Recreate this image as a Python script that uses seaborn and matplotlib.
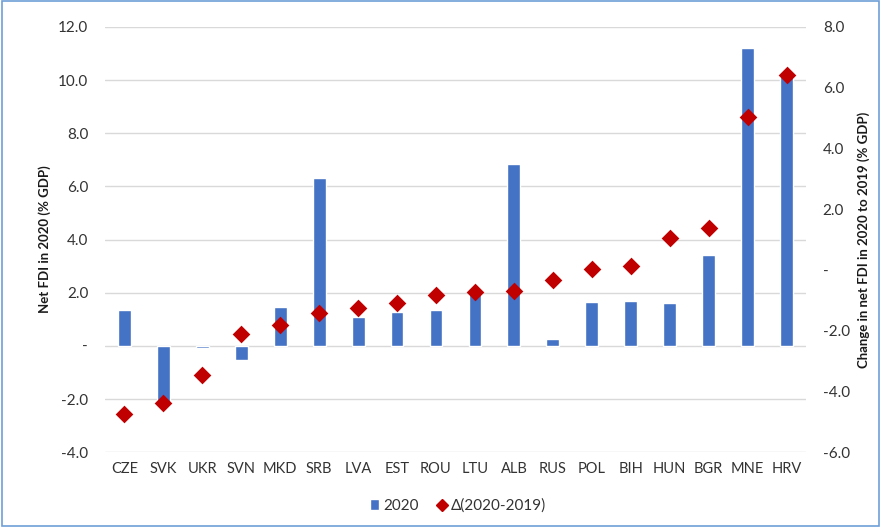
import matplotlib
matplotlib.use("Agg")
import matplotlib.pyplot as plt
import seaborn as sns
import pandas as pd
from matplotlib.patches import Patch, Rectangle
from matplotlib.lines import Line2D
from matplotlib.ticker import FuncFormatter, MultipleLocator

# data
countries = ['CZE', 'SVK', 'UKR', 'SVN', 'MKD', 'SRB', 'LVA', 'EST', 'ROU',
             'LTU', 'ALB', 'RUS', 'POL', 'BIH', 'HUN', 'BGR', 'MNE', 'HRV']
fdi_2020 = [1.35, -2.2, -0.08, -0.55, 1.45, 6.3, 1.1, 1.28, 1.35,
            2.05, 6.85, 0.25, 1.65, 1.7, 1.6, 3.42, 11.2, 10.3]
delta = [-4.75, -4.38, -3.46, -2.1, -1.8, -1.42, -1.25, -1.1, -0.82,
         -0.72, -0.69, -0.33, 0.03, 0.13, 1.05, 1.38, 5.04, 6.42]

df = pd.DataFrame({'country': countries, 'fdi': fdi_2020, 'delta': delta})

blue = '#4472C4'
red = '#C00000'

sns.set_theme(style='white')
plt.rcParams['font.family'] = ['Lato', 'DejaVu Sans']

fig = plt.figure(figsize=(8.81, 5.27), dpi=100)
ax = fig.add_axes([0.119, 0.142, 0.796, 0.807])
fig.patches.append(Rectangle((0.002, 0.002), 0.996, 0.996, transform=fig.transFigure,
                             fill=False, edgecolor='#6F9FD8', linewidth=1.2))

sns.barplot(data=df, x='country', y='fdi', color=blue, width=0.33,
            saturation=1, ax=ax, zorder=2)
ax.set_ylim(-4, 12)
ax.yaxis.set_major_locator(MultipleLocator(2))

ax2 = ax.twinx()
sns.stripplot(data=df, x='country', y='delta', color=red, marker='D', size=9,
              jitter=False, linewidth=0, ax=ax2, zorder=3)
ax2.set_ylim(-6, 8)
ax2.yaxis.set_major_locator(MultipleLocator(2))
ax.set_xlim(-0.5, len(countries) - 0.5)

def fmt(v, pos):
    return '-' if abs(v) < 1e-9 else f'{v:.1f}'

for a in (ax, ax2):
    a.yaxis.set_major_formatter(FuncFormatter(fmt))
    for s in a.spines.values():
        s.set_visible(False)
    a.tick_params(length=0, labelsize=11, colors='#333333')

ax.grid(axis='y', color='#D9D9D9', linewidth=1, zorder=0)
ax.set_axisbelow(True)
ax.tick_params(axis='x', pad=7, labelsize=10.5)
ax.tick_params(axis='y', pad=12)
ax2.tick_params(axis='y', pad=12)
ax.set_xlabel('')
ax2.set_xlabel('')
ax.set_ylabel('Net FDI in 2020 (% GDP)', fontsize=9.5, color='#1a1a1a',
              fontweight='bold', labelpad=5)
ax2.set_ylabel('Change in net FDI in 2020 to 2019 (% GDP)', fontsize=9.5,
               color='#1a1a1a', fontweight='bold', labelpad=5)

handles = [Patch(facecolor=blue, label='2020'),
           Line2D([], [], marker='D', color=red, linestyle='', markersize=6,
                  label='Δ(2020-2019)')]
fig.legend(handles=handles, loc='center', bbox_to_anchor=(0.52, 0.04), ncol=2,
           frameon=False, fontsize=11, handlelength=0.6, handletextpad=0.3,
           columnspacing=1.2, labelcolor='#333333')

fig.savefig('out.png', dpi=100)
